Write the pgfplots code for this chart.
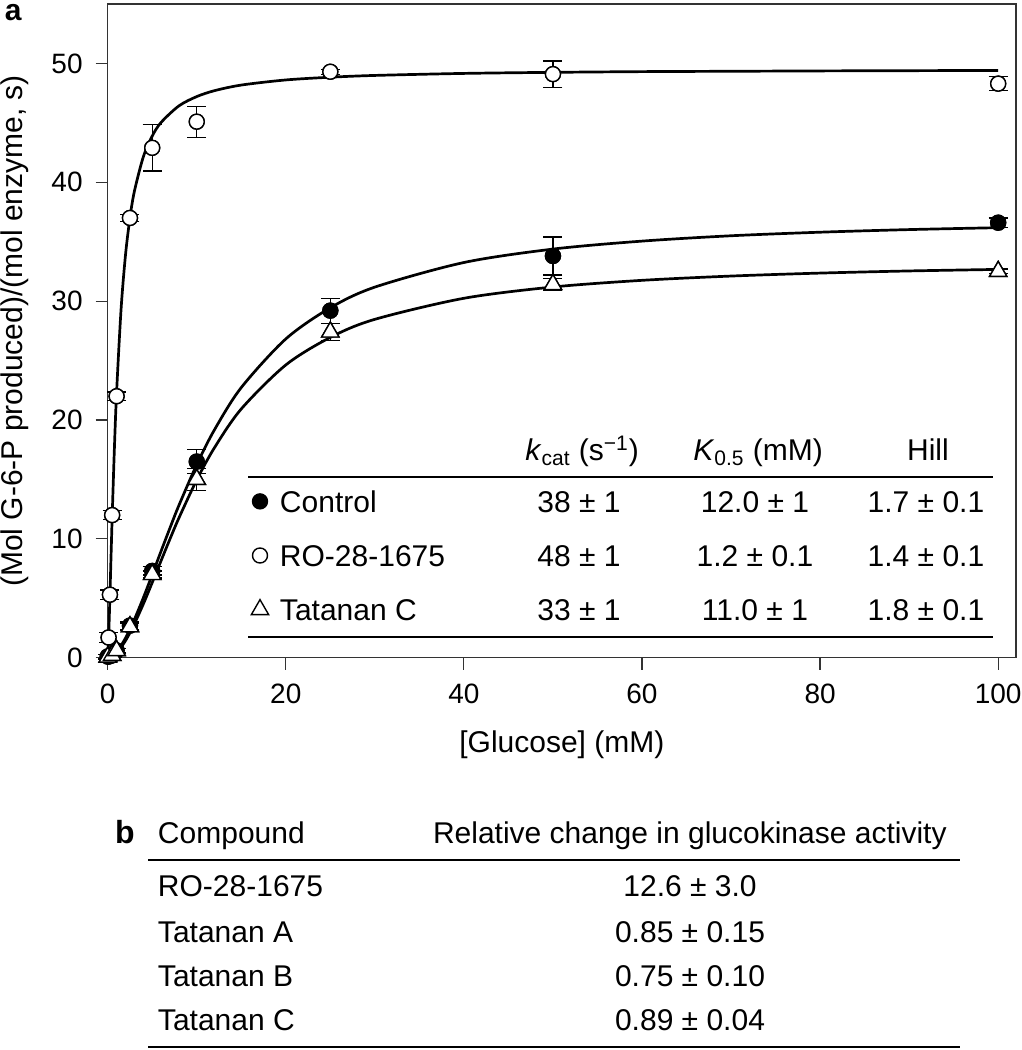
\documentclass[border=0pt]{standalone}
\usepackage{fontspec}
\setmainfont{Liberation Sans}
\usepackage{pgfplots}
\usepackage{pgfplotstable}
\pgfplotsset{compat=1.18}

\newcommand{\trow}[4]{\rlap{#1}\hspace{149.5pt}\makebox[0pt]{#2}\hspace{88pt}\makebox[0pt]{#3}\hspace{85.5pt}\makebox[0pt]{#4}\hspace{40pt}}

\pgfplotstableread{
x y e
0 0.1 0.2
0.1 0.1 0.2
0.25 0.15 0.2
0.5 0.2 0.2
1 0.6 0.2
2.5 2.7 0.3
5 7.3 0.35
10 16.5 1.0
25 29.2 1.05
50 33.8 1.6
100 36.6 0.4
}\ctrl
\pgfplotstableread{
x y e
0.1 1.7 0.4
0.25 5.3 0.4
0.5 12.0 0.4
1 22.0 0.35
2.5 37.0 0.3
5 42.9 1.95
10 45.1 1.3
25 49.3 0.2
50 49.1 1.1
100 48.3 0.6
}\ro
\pgfplotstableread{
x y e
0 0.05 0.2
0.5 0.2 0.2
1 0.6 0.2
2.5 2.6 0.3
5 7.0 0.3
10 15.0 0.9
25 27.4 0.7
50 31.4 0.5
100 32.5 0.2
}\tat

\begin{document}
\begin{tikzpicture}[font=\fontsize{15}{18}\selectfont, tn/.style={inner sep=0pt, outer sep=0pt}]
\useasboundingbox (-53.85pt,-196.15pt) rectangle (457.15pt,328.85pt);
\begin{axis}[
  scale only axis, width=454.15pt, height=326.85pt,
  xmin=0, xmax=102, ymin=0, ymax=55,
  xtick={0,20,40,60,80,100}, ytick={0,10,20,30,40,50},
  xtick pos=bottom, ytick pos=left,
  tick align=outside, major tick length=6pt,
  axis line style={black!80, line width=0.6pt},
  every tick/.style={black!80, line width=0.6pt},
  tick label style={font=\fontsize{14}{16}\selectfont},
  xticklabel style={yshift=-3.5pt},
  yticklabel style={xshift=-3pt},
  /pgf/number format/assume math mode=true,
  xlabel={{[}Glucose{]} (mM)},
  ylabel={(Mol G-6-P produced)/(mol enzyme, s)},
  label style={font=\fontsize{15}{18}\selectfont},
  xlabel style={at={(axis description cs:0.5,0)}, anchor=center, yshift=-43.65pt},
  ylabel style={at={(axis description cs:-0.10206,0.5)}, anchor=center},
  clip=false,
  legend style={at={(axis cs:14.857,14.101)}, anchor=north west, draw=none, fill=none,
    inner sep=0pt, outer sep=0pt, row sep=12.57pt, column sep=0pt,
    font=\fontsize{15}{18}\selectfont,
    nodes={inner sep=0pt, outer sep=0pt, text height=11pt, text depth=3.5pt}},
  legend cell align=left,
  legend image code/.code={\path[draw=none] (0pt,0pt) -- (20pt,0pt); \draw[#1] plot coordinates {(10pt,1.62pt)};},
]
% fitted curves
\addplot[line width=1.35pt, smooth, tension=0.5, forget plot] coordinates {
(0,0) (0.05,0.607) (0.1,1.569) (0.2,3.937) (0.3,6.546) (0.5,11.76) (0.75,17.56) (1,22.34)
(1.5,29.30) (2,33.89) (2.5,37.02) (3,39.25) (4,42.14) (5,43.89) (6,45.04) (8,46.43)
(10,47.21) (12,47.71) (15,48.18) (20,48.61) (25,48.84) (30,48.99) (40,49.16) (50,49.25)
(60,49.31) (70,49.34) (80,49.37) (90,49.39) (100,49.41)};
\addplot[line width=1.35pt, smooth, tension=0.5, forget plot] coordinates {
(0,0) (0.5,0.153) (1,0.508) (1.5,1.019) (2,1.655) (2.5,2.395) (3,3.216) (4,5.036)
(5,6.987) (6,8.976) (7,10.93) (8,12.82) (10,16.25) (12,19.19) (15,22.73) (20,26.82)
(25,29.44) (30,31.18) (40,33.25) (50,34.38) (60,35.05) (70,35.50) (80,35.80) (90,36.02) (100,36.18)};
\addplot[line width=1.35pt, smooth, tension=0.5, forget plot] coordinates {
(0,0) (0.5,0.123) (1,0.425) (1.5,0.870) (2,1.434) (2.5,2.099) (3,2.843) (4,4.512)
(5,6.319) (6,8.171) (7,9.999) (8,11.76) (10,14.96) (12,17.68) (15,20.93) (20,24.63)
(25,26.95) (30,28.47) (40,30.24) (50,31.19) (60,31.75) (70,32.11) (80,32.36) (90,32.54) (100,32.67)};
\pgfplotsset{
  ebar/.style={forget plot, only marks,
    error bars/.cd, y dir=both, y explicit,
    error bar style={line width=0.6pt, draw=black, solid},
    error mark=-,
    error mark options={rotate=90, mark size=4.75pt, line width=0.6pt, draw=black, solid}},
  mfill/.style={only marks, mark=*, mark size=3.75pt, mark options={fill=black, draw=black, line width=0.7pt}},
  mopen/.style={only marks, mark=*, mark size=3.75pt, mark options={fill=white, draw=black, line width=0.7pt}},
  mtri/.style={only marks, mark=triangle*, mark size=5pt, mark options={fill=white, draw=black, line width=0.7pt}},
}
% error bars with marks
\addplot[mfill, ebar] table[x=x, y=y, y error=e] {\ctrl};
\addplot[mopen, ebar] table[x=x, y=y, y error=e] {\ro};
\addplot[mtri, ebar] table[x=x, y=y, y error=e] {\tat};
% markers on top
\addplot[mfill] table[x=x, y=y] {\ctrl};
\addlegendentry{\trow{Control}{38 ± 1}{12.0 ± 1}{1.7 ± 0.1}}
\addplot[mopen] table[x=x, y=y] {\ro};
\addlegendentry{\trow{RO-28-1675}{48 ± 1}{1.2 ± 0.1}{1.4 ± 0.1}}
\addplot[mtri] table[x=x, y=y] {\tat};
\addlegendentry{\trow{Tatanan C}{33 ± 1}{11.0 ± 1}{1.8 ± 0.1}}
\end{axis}
% panel label a
\node[tn, anchor=base west, font=\fontsize{15}{18}\selectfont\bfseries] at (-51.35pt,318.5pt) {a};
% inset table header and rules
\node[anchor=base] at (237.2pt,98.5pt) {\textit{k}\textsubscript{cat} (s\textsuperscript{−1})};
\node[anchor=base] at (325.2pt,98.5pt) {\textit{K}\textsubscript{0.5} (mM)};
\node[anchor=base] at (410.15pt,98.5pt) {Hill};
\draw[line width=1pt] (70.15pt,90.5pt) -- (442.65pt,90.5pt);
\draw[line width=1pt] (70.15pt,10.5pt) -- (442.65pt,10.5pt);
% table b
\node[tn, anchor=base, font=\fontsize{16}{18}\selectfont\bfseries] at (8.65pt,-93pt) {b};
\node[tn, anchor=base west] at (25.15pt,-93pt) {Compound};
\node[tn, anchor=base west] at (162.65pt,-93pt) {Relative change in glucokinase activity};
\draw[line width=1.2pt] (20.15pt,-101.15pt) -- (426.15pt,-101.15pt);
\node[tn, anchor=base west] at (25.15pt,-119.5pt) {RO-28-1675};
\node[tn, anchor=base west] at (25.15pt,-142.5pt) {Tatanan A};
\node[tn, anchor=base west] at (25.15pt,-164.5pt) {Tatanan B};
\node[tn, anchor=base west] at (25.15pt,-186.5pt) {Tatanan C};
\node[tn, anchor=base] at (291.15pt,-119.5pt) {12.6 ± 3.0};
\node[tn, anchor=base] at (291.15pt,-142.5pt) {0.85 ± 0.15};
\node[tn, anchor=base] at (291.15pt,-164.5pt) {0.75 ± 0.10};
\node[tn, anchor=base] at (291.15pt,-186.5pt) {0.89 ± 0.04};
\draw[line width=1.2pt] (20.15pt,-194.65pt) -- (426.15pt,-194.65pt);
\end{tikzpicture}
\end{document}
